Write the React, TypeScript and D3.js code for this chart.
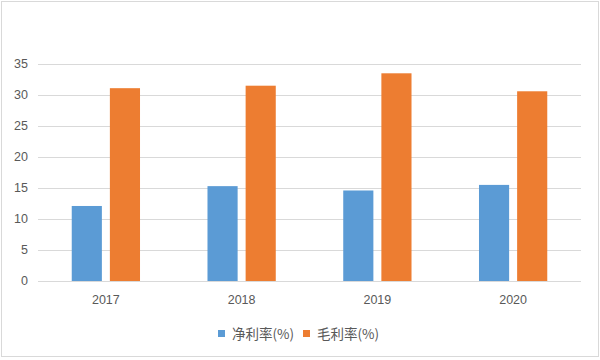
import React from "react";
import * as d3 from "d3";

const years = ["2017", "2018", "2019", "2020"];
const netMargin = [12.1, 15.3, 14.6, 15.5];
const grossMargin = [31.1, 31.5, 33.5, 30.6];
const seriesNames = ["净利率(%)", "毛利率(%)"];
const yTicks = [0, 5, 10, 15, 20, 25, 30, 35];

const W = 600;
const H = 360;
const colors = ["#5b9bd5", "#ed7d31"];

export default function App() {
  const x = d3.scaleBand().domain(years).range([38, 581]);
  const y = d3.scaleLinear().domain([0, 35]).range([281, 64]);
  const series = [netMargin, grossMargin];
  const bw = x.bandwidth() * 0.222;
  const gap = 8;

  return (
    <svg
      width={W}
      height={H}
      style={{ position: "absolute", left: 0, top: 0 }}
      fontFamily="'Liberation Sans', Arial, sans-serif"
    >
      <rect x={0} y={0} width={W} height={H} fill="#fff" />
      <rect x={1.5} y={1.5} width={597} height={355} fill="none" stroke="#d9d9d9" strokeWidth={1} />

      {/* gridlines + y labels */}
      {yTicks.map((t) => (
        <g key={t}>
          <line x1={38} x2={581} y1={Math.round(y(t)) + 0.5} y2={Math.round(y(t)) + 0.5} stroke="#d9d9d9" strokeWidth={1} />
          <text x={28} y={y(t)} dy="0.35em" textAnchor="end" fontSize={12.5} fill="#595959">
            {t}
          </text>
        </g>
      ))}

      {/* bars */}
      {years.map((yr, i) => {
        const cx = (x(yr) ?? 0) + x.bandwidth() / 2;
        return (
          <g key={yr}>
            {series.map((s, j) => {
              const bx = j === 0 ? cx - gap / 2 - bw : cx + gap / 2;
              return (
                <rect key={j} x={bx} y={y(s[i])} width={bw} height={y(0) - y(s[i])} fill={colors[j]} />
              );
            })}
            <text x={cx} y={300} dy="0.35em" textAnchor="middle" fontSize={12.5} fill="#595959">
              {yr}
            </text>
          </g>
        );
      })}

      {/* legend */}
      {seriesNames.map((n, j) => {
        const lx = j === 0 ? 218 : 303;
        return (
          <g key={n}>
            <rect x={lx} y={330} width={7} height={7} fill={colors[j]} />
            <text
              x={lx + 14}
              y={334}
              dy="0.35em"
              fontSize={13.5}
              fill="#595959"
              fontFamily="'Noto Sans CJK SC', sans-serif"
            >
              {n}
            </text>
          </g>
        );
      })}
    </svg>
  );
}
